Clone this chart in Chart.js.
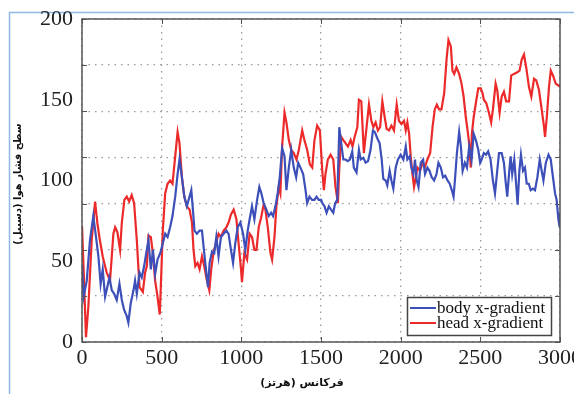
<!DOCTYPE html>
<html>
<head>
<meta charset="utf-8">
<script src="https://cdn.jsdelivr.net/npm/chart.js@4.4.1/dist/chart.umd.min.js"></script>
<style>
  html, body { margin: 0; padding: 0; background: #fff; }
  #wrap { width: 574px; height: 394px; }
</style>
</head>
<body>
<div id="wrap"><canvas id="chart" width="574" height="394"></canvas></div>
<script>
// body x-gradient (blue)
const bodyHz = [0,10,30,50,71,88,103,117,130,145,159,172,187,201,218,235,250,264,281,291,306,323,333,344,361,375,390,403,417,432,445,459,474,491,507,522,537,553,568,585,600,612,627,642,658,675,686,696,706,721,738,753,763,778,791,801,816,830,843,857,872,889,906,920,935,948,962,977,994,1011,1025,1040,1052,1067,1082,1099,1113,1126,1140,1157,1172,1187,1199,1214,1228,1241,1256,1271,1283,1298,1313,1329,1344,1357,1371,1388,1403,1413,1428,1444,1459,1472,1486,1501,1508,1522,1535,1549,1563,1577,1589,1602,1615,1627,1640,1654,1668,1681,1696,1706,1723,1738,1749,1766,1780,1795,1811,1826,1838,1854,1868,1881,1891,1906,1916,1931,1942,1954,1969,1983,2000,2017,2032,2042,2057,2067,2080,2090,2101,2112,2126,2141,2153,2168,2181,2195,2210,2225,2237,2252,2266,2280,2294,2308,2321,2332,2342,2353,2367,2378,2389,2403,2416,2430,2445,2458,2472,2487,2499,2508,2522,2536,2549,2564,2579,2592,2606,2617,2634,2648,2658,2669,2680,2690,2700,2713,2726,2734,2745,2755,2768,2780,2791,2804,2816,2830,2843,2858,2873,2885,2896,2911,2928,2942,2956,2969,2979,2990,2998,3000];
const bodyDb = [48,28,38,63,78,65,53,36,45,28,34,40,32,30,26,36,26,20,16,12,24,32,38,30,43,40,47,55,63,45,57,42,51,55,61,67,65,71,78,90,104,113,102,90,84,90,94,82,69,67,69,69,59,45,34,49,56,55,65,53,65,67,69,67,57,49,61,71,74,67,57,69,76,84,76,88,96,92,86,82,78,80,78,84,92,102,120,115,94,108,119,108,102,111,108,104,94,86,90,88,88,90,88,88,86,84,80,84,82,80,86,88,133,123,113,113,112,113,118,108,105,119,113,114,111,112,119,131,130,126,123,113,101,100,97,106,100,95,108,113,116,113,121,113,115,108,104,113,100,96,111,113,104,108,106,102,100,104,111,108,102,103,100,98,94,90,102,117,130,121,106,111,108,121,113,129,125,119,111,113,117,116,118,113,100,92,106,117,117,111,100,90,104,115,104,113,96,85,106,116,106,108,98,98,94,95,94,102,113,106,100,111,116,113,102,92,88,76,71,80];

// head x-gradient (red)
const headHz = [0,12,25,40,61,82,96,109,130,155,176,197,208,222,239,250,266,281,296,312,327,344,361,382,396,407,417,432,445,459,474,488,495,507,522,537,553,568,585,600,612,627,642,658,675,690,700,711,725,738,753,767,784,799,811,826,841,857,872,889,906,920,935,952,969,983,998,1004,1019,1036,1052,1067,1082,1095,1109,1124,1140,1151,1166,1183,1193,1208,1220,1235,1245,1256,1271,1283,1298,1313,1329,1346,1361,1382,1396,1413,1430,1445,1459,1476,1493,1508,1518,1528,1543,1560,1577,1591,1606,1615,1627,1640,1655,1669,1686,1698,1711,1728,1738,1753,1769,1786,1801,1816,1829,1843,1857,1871,1885,1900,1912,1927,1942,1958,1975,1989,2005,2021,2032,2042,2053,2063,2074,2084,2095,2105,2122,2137,2151,2168,2185,2200,2214,2227,2241,2256,2273,2288,2300,2315,2325,2336,2350,2367,2382,2395,2409,2420,2430,2440,2447,2458,2472,2487,2503,2514,2522,2537,2554,2568,2579,2596,2606,2621,2634,2648,2662,2680,2694,2711,2732,2746,2760,2774,2788,2805,2820,2837,2851,2868,2885,2900,2906,2917,2931,2942,2956,2973,2988,3000];
const headDb = [72,40,3,22,63,87,74,65,53,43,38,67,71,68,57,74,88,90,87,91,86,63,34,31,43,47,66,65,55,38,28,17,35,69,92,98,100,98,115,130,123,102,90,84,82,74,57,47,49,45,53,47,38,32,45,56,61,67,65,69,71,74,79,82,76,61,45,37,55,51,67,65,57,57,71,77,85,82,71,55,51,65,84,96,92,121,142,136,125,119,117,113,119,131,125,119,110,108,125,134,131,106,94,104,113,116,113,96,86,108,127,125,123,121,125,121,127,133,150,149,117,133,147,137,133,136,131,133,149,139,132,131,134,131,147,137,135,137,131,136,129,115,104,96,102,108,106,111,108,113,117,133,144,147,144,144,154,175,187,183,168,166,170,166,160,152,139,131,123,108,129,139,148,157,157,154,150,148,142,136,144,160,156,142,152,155,149,149,165,166,167,168,175,178,170,158,152,163,162,156,144,133,127,139,158,168,165,160,159,158];

const xTicks = [0, 500, 1000, 1500, 2000, 2500, 3000];
const yTickLabels = [0, 50, 100, 150, 200];
const yGridSteps = [0, 20, 40, 60, 80, 100, 120, 140]; // original 7-division grid

const seriesNames = ['body x-gradient', 'head x-gradient'];
const xTitle = 'فرکانس (هرتز)';
const yTitle = 'سطح فشار هوا (دسیبل)';

const BLUE = '#3d4fb8';
const RED = '#ec2a2a';

function toPoints(xs, ys) {
    return xs.map((x, i) => ({ x: x, y: ys[i] }));
}

const decorPlugin = {
    id: 'decor',
    beforeDraw(chart) {
        const c = chart.ctx;
        c.save();
        c.fillStyle = '#fff';
        c.fillRect(0, 0, chart.width, chart.height);
        c.strokeStyle = '#8fb8e4';
        c.lineWidth = 1.5;
        c.beginPath();
        c.moveTo(9.5, chart.height);
        c.lineTo(9.5, 12.5);
        c.lineTo(chart.width, 12.5);
        c.stroke();
        c.restore();
    },
    afterDatasetsDraw(chart) {
        const c = chart.ctx;
        const a = chart.chartArea;
        const xs = chart.scales.x;
        const yg = chart.scales.yg;
        c.save();
        // frame
        c.strokeStyle = '#555';
        c.lineWidth = 1.5;
        c.strokeRect(a.left, a.top, a.right - a.left, a.bottom - a.top);
        // inward ticks
        c.lineWidth = 1;
        c.beginPath();
        xTicks.forEach(v => {
            const px = Math.round(xs.getPixelForValue(v)) + 0.5;
            c.moveTo(px, a.bottom); c.lineTo(px, a.bottom - 5);
            c.moveTo(px, a.top); c.lineTo(px, a.top + 5);
        });
        yGridSteps.forEach(v => {
            const py = Math.round(yg.getPixelForValue(v)) + 0.5;
            c.moveTo(a.left, py); c.lineTo(a.left + 5, py);
            c.moveTo(a.right, py); c.lineTo(a.right - 5, py);
        });
        c.stroke();

        // legend box
        const lx = 407, ly = 297, lw = 144, lh = 38;
        c.fillStyle = '#fff';
        c.fillRect(lx, ly, lw, lh);
        c.strokeStyle = '#444';
        c.lineWidth = 1.5;
        c.strokeRect(lx + 0.5, ly + 0.5, lw, lh);
        const colors = [BLUE, RED];
        c.font = '17px "Liberation Serif"';
        c.textBaseline = 'middle';
        c.textAlign = 'left';
        seriesNames.forEach((name, i) => {
            const yy = ly + 11 + i * 15;
            c.strokeStyle = colors[i];
            c.lineWidth = 2;
            c.beginPath();
            c.moveTo(lx + 3, yy); c.lineTo(lx + 29, yy);
            c.stroke();
            c.fillStyle = '#111';
            c.fillText(name, lx + 30, yy + 1);
        });

        // axis titles (RTL)
        c.fillStyle = '#111';
        c.direction = 'rtl';
        c.textAlign = 'center';
        c.font = 'bold 11px "DejaVu Sans"';
        c.fillText(xTitle, 302, 383);
        c.translate(18, 184);
        c.rotate(-Math.PI / 2);
        c.font = 'bold 10px "DejaVu Sans"';
        c.fillText(yTitle, 0, 0);
        c.restore();
    }
};

const ctx = document.getElementById('chart').getContext('2d');
new Chart(ctx, {
    type: 'line',
    data: {
        datasets: [
            {
                label: seriesNames[0],
                data: toPoints(bodyHz, bodyDb),
                borderColor: BLUE,
                borderWidth: 2.2,
                pointRadius: 0,
                tension: 0,
                yAxisID: 'y'
            },
            {
                label: seriesNames[1],
                data: toPoints(headHz, headDb),
                borderColor: RED,
                borderWidth: 2.2,
                pointRadius: 0,
                tension: 0,
                yAxisID: 'y'
            }
        ]
    },
    options: {
        responsive: false,
        animation: false,
        layout: { padding: { left: 0, top: 19, right: 14, bottom: 0 } },
        plugins: {
            legend: { display: false },
            tooltip: { enabled: false }
        },
        scales: {
            x: {
                type: 'linear',
                min: 0,
                max: 3000,
                afterBuildTicks: s => { s.ticks = xTicks.map(v => ({ value: v })); },
                afterFit: s => { s.height = 52; s.paddingLeft = 0; s.paddingRight = 0; },
                ticks: {
                    font: { family: '"Liberation Serif"', size: 22 },
                    color: '#222',
                    padding: 3,
                    maxRotation: 0,
                    callback: v => String(v)
                },
                grid: { color: '#9a9a9a', lineWidth: 1.3, drawTicks: false },
                border: { display: false, dash: [1.5, 5] }
            },
            y: {
                type: 'linear',
                position: 'left',
                min: 0,
                max: 200,
                afterBuildTicks: s => { s.ticks = yTickLabels.map(v => ({ value: v })); },
                afterFit: s => { s.width = 82; s.paddingTop = 0; s.paddingBottom = 0; },
                ticks: {
                    font: { family: '"Liberation Serif"', size: 22 },
                    color: '#222',
                    padding: 9,
                    callback: v => String(v)
                },
                grid: { display: false, drawTicks: false },
                border: { display: false }
            },
            yg: {
                type: 'linear',
                position: 'left',
                min: 0,
                max: 140,
                afterBuildTicks: s => { s.ticks = yGridSteps.map(v => ({ value: v })); },
                afterFit: s => { s.width = 0; s.paddingTop = 0; s.paddingBottom = 0; },
                ticks: { display: false },
                grid: { color: '#9a9a9a', lineWidth: 1.3, drawTicks: false },
                border: { display: false, dash: [1.5, 5] }
            }
        }
    },
    plugins: [decorPlugin]
});
</script>
</body>
</html>
